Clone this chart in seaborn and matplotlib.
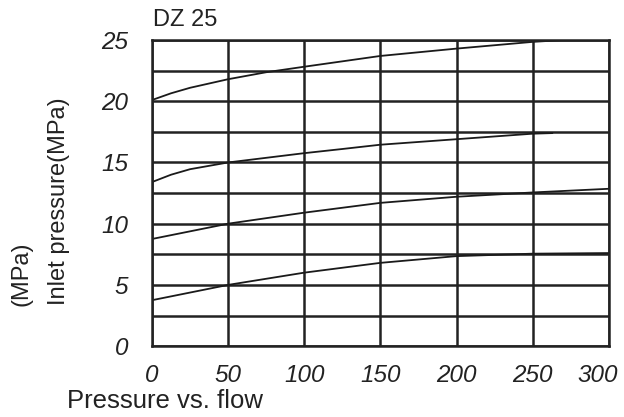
import numpy as np
import pandas as pd
import matplotlib
matplotlib.use("Agg")
import matplotlib.pyplot as plt
import matplotlib.transforms as mtransforms
import seaborn as sns

# flow values (x) and inlet pressure for each curve
flow_a = [0, 12.5, 25, 50, 75, 100, 125, 150, 200, 250, 270]
curve_a = [20.1, 20.65, 21.1, 21.8, 22.37, 22.82, 23.26, 23.7, 24.3, 24.85, 25.0]
flow_b = [0, 12.5, 25, 50, 75, 100, 125, 150, 200, 250, 263]
curve_b = [13.4, 14.0, 14.45, 15.0, 15.38, 15.76, 16.1, 16.45, 16.9, 17.35, 17.4]
flow_c = [0, 50, 100, 150, 200, 250, 300]
curve_c = [8.75, 10.0, 10.9, 11.7, 12.2, 12.55, 12.85]
flow_d = [0, 50, 100, 150, 200, 250, 300]
curve_d = [3.75, 5.0, 6.0, 6.8, 7.35, 7.55, 7.6]

x_ticks = [0, 50, 100, 150, 200, 250, 300]
y_ticks = [0, 5, 10, 15, 20, 25]

sns.set_style("white")
plt.rcParams["font.family"] = ["Liberation Sans", "DejaVu Sans"]

df = pd.concat([
    pd.DataFrame({"flow": flow_a, "p": curve_a, "c": "a"}),
    pd.DataFrame({"flow": flow_b, "p": curve_b, "c": "b"}),
    pd.DataFrame({"flow": flow_c, "p": curve_c, "c": "c"}),
    pd.DataFrame({"flow": flow_d, "p": curve_d, "c": "d"}),
])

fig = plt.figure(figsize=(6.24, 4.17), dpi=100)
ax = fig.add_axes([0.2436, 0.170, 0.732, 0.734])

# grid
for yv in np.arange(0, 25.1, 2.5):
    ax.axhline(yv, color="#222222", lw=1.8, zorder=1)
for xv in x_ticks:
    ax.axvline(xv, color="#222222", lw=1.8, zorder=1)

sns.lineplot(data=df, x="flow", y="p", units="c", estimator=None,
             color="#1a1a1a", lw=1.3, ax=ax, zorder=2)

ax.set_xlim(0, 300)
ax.set_ylim(0, 25)
ax.set_xticks(x_ticks)
ax.set_yticks(y_ticks)
ax.set_xticklabels([str(v) for v in x_ticks], fontsize=17.5, style="italic", color="#222222")
ax.set_yticklabels([str(v) for v in y_ticks], fontsize=17.5, style="italic", color="#222222")
ax.tick_params(length=0, pad=17)
ax.tick_params(axis="x", pad=13)
# last x label sits a bit to the left, as in the original
last = ax.get_xticklabels()[-1]
last.set_transform(last.get_transform() +
                   mtransforms.ScaledTranslation(-0.11, 0, fig.dpi_scale_trans))
for s in ax.spines.values():
    s.set_color("#222222")
    s.set_linewidth(1.8)
ax.set_xlabel("")
ax.set_ylabel("")

fig.text(0.245, 0.953, "DZ 25", fontsize=17, color="#222222", va="center", ha="left")
fig.text(0.0946, 0.518, "Inlet pressure(MPa)", fontsize=17, rotation=90,
         va="center", ha="center", color="#222222")
fig.text(0.034, 0.343, "(MPa)", fontsize=17, rotation=90,
         va="center", ha="center", color="#222222")
fig.text(0.107, 0.022, "Pressure vs. flow", fontsize=18.5, va="baseline",
         ha="left", color="#222222")

fig.savefig("out.png", dpi=100, facecolor="white")
